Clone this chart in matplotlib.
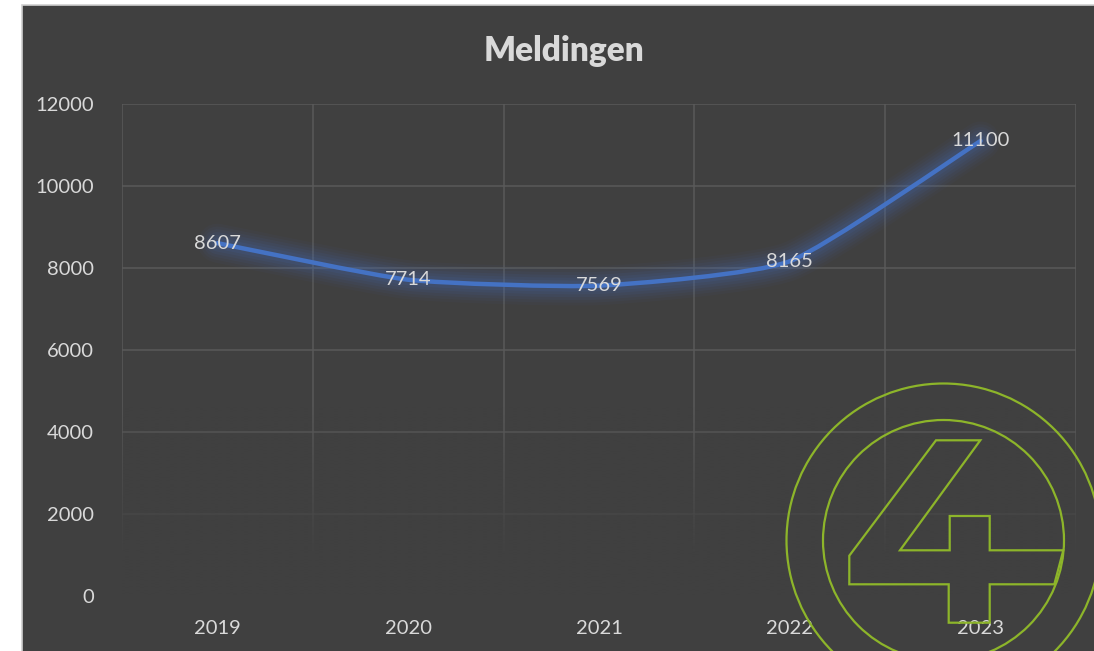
import numpy as np
import matplotlib
matplotlib.use("Agg")
import matplotlib.pyplot as plt
from matplotlib.path import Path
from matplotlib.patches import PathPatch, Rectangle, Circle, Polygon
from matplotlib.transforms import Affine2D, IdentityTransform

# ---- data ----
years = ["2019", "2020", "2021", "2022", "2023"]
meldingen = [8607, 7714, 7569, 8165, 11100]
y_ticks = [0, 2000, 4000, 6000, 8000, 10000, 12000]
title = "Meldingen"

W, H = 1094, 651
BG = "#404040"
TXT = "#d9d9d9"
LINE = "#4472c4"
GRID = "#5a5a5a"
LOGO = "#8db52a"

plt.rcParams["font.family"] = ["Lato", "DejaVu Sans"]

fig = plt.figure(figsize=(W / 100, H / 100), dpi=100)
fig.patch.set_facecolor("white")

# chart area background with light border (right/bottom edges run off the canvas)
fig.add_artist(Rectangle((22 / W, -0.05), (W - 22) / W + 0.1, (H - 5) / H + 0.05,
                         transform=fig.transFigure,
                         facecolor=BG, edgecolor="#d0d0d0", linewidth=1.2, zorder=-5))

ax = fig.add_axes([122 / W, 1 - 596 / H, 954 / W, 492 / H])
ax.set_facecolor("none")
for s in ax.spines.values():
    s.set_visible(False)

x = np.arange(len(years))
ax.set_xlim(-0.5, len(years) - 0.5)
ax.set_ylim(y_ticks[0], y_ticks[-1])

ax.set_yticks(y_ticks)
ax.set_yticklabels([str(t) for t in y_ticks])
ax.set_xticks(x)
ax.set_xticklabels(years)
ax.set_xticks(np.arange(-0.5, len(years), 1.0), minor=True)
ax.tick_params(axis="both", which="both", length=0, colors=TXT, labelsize=14.5)
ax.tick_params(axis="y", pad=20)
ax.tick_params(axis="x", pad=17)

ax.set_axisbelow(True)
ax.grid(True, axis="y", which="major", color=GRID, linewidth=1.1)
ax.grid(True, axis="x", which="minor", color=GRID, linewidth=1.1)

# fade of grid toward the bottom
ramp = np.linspace(0, 1, 256)
alpha = np.clip((4600 - ramp * 12000) / 3700, 0, 1)
bg_rgb = np.array([0x40, 0x40, 0x40]) / 255
img = np.zeros((256, 1, 4))
img[:, 0, :3] = bg_rgb
img[:, 0, 3] = alpha
ax.imshow(img, extent=(-0.5, len(years) - 0.5, 0, 12000), origin="lower",
          aspect="auto", zorder=1, interpolation="bilinear")
ax.set_xlim(-0.5, len(years) - 0.5)
ax.set_ylim(y_ticks[0], y_ticks[-1])

# lightly smoothed line (Bezier through the points)
k = 0.09
pts = np.column_stack([x, meldingen]).astype(float)
n = len(pts)
verts = [pts[0]]
codes = [Path.MOVETO]
for i in range(n - 1):
    p0 = pts[i - 1] if i > 0 else pts[i]
    p1 = pts[i]
    p2 = pts[i + 1]
    p3 = pts[i + 2] if i + 2 < n else pts[i + 1]
    c1 = p1 + (p2 - p0) * k
    c2 = p2 - (p3 - p1) * k
    verts += [c1, c2, p2]
    codes += [Path.CURVE4] * 3
path = Path(verts, codes)

# glow
for lw, a in [(28, 0.04), (24, 0.05), (20, 0.06), (16, 0.07), (12, 0.08), (8, 0.10)]:
    ax.add_patch(PathPatch(path, facecolor="none", edgecolor=LINE, linewidth=lw,
                           alpha=a, capstyle="round", joinstyle="round", zorder=2))
ax.add_patch(PathPatch(path, facecolor="none", edgecolor=LINE, linewidth=3.2,
                       capstyle="round", joinstyle="round", zorder=3))

for xi, v in zip(x, meldingen):
    ax.text(xi, v, str(v), ha="center", va="center", color=TXT, fontsize=14.5, zorder=4)

fig.text(564 / W, 1 - 51 / H, title, ha="center", va="center", color=TXT,
         fontsize=24, fontweight="heavy")

# logo watermark (decoration, in pixel coordinates)
tr = Affine2D().scale(1, -1).translate(0, H) + IdentityTransform()
cx, cy = 943.5, 540.5
fig.add_artist(Circle((cx, cy), 157, transform=tr, fill=False, edgecolor=LOGO, linewidth=1.6, zorder=5))
fig.add_artist(Circle((cx, cy), 120.5, transform=tr, fill=False, edgecolor=LOGO, linewidth=1.6, zorder=5))
four = [(936, 440.3), (980.3, 440.3), (900, 550.3), (949.7, 550.3), (949.7, 516),
        (989.7, 516), (989.7, 550.3), (1063.3, 550.3), (1054.3, 584.3), (989.7, 584.3),
        (989.7, 622.7), (948.7, 622.7), (948.7, 584.3), (849.3, 584.3), (849.3, 555.7)]
fig.add_artist(Polygon(four, closed=True, transform=tr, fill=False, edgecolor=LOGO,
                       linewidth=1.6, zorder=5))

fig.savefig("out.png", dpi=100, facecolor=fig.get_facecolor())
